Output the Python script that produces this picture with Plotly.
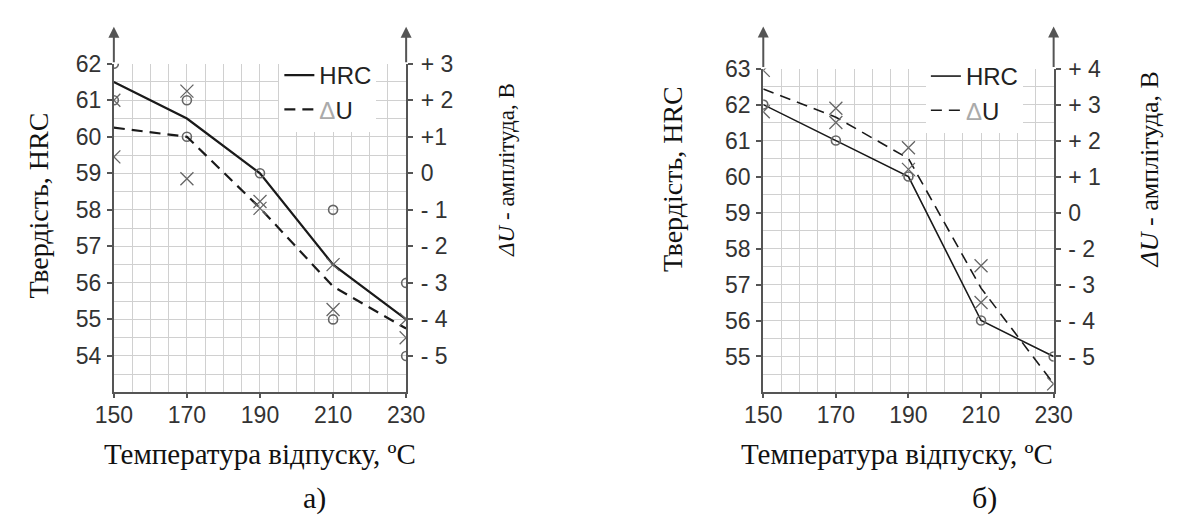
import plotly.graph_objects as go

W, H = 1182, 531

# ---------------- data ----------------
temps = [150, 170, 190, 210, 230]
x_ticks = [150, 170, 190, 210, 230]

# panel a)
a_hrc_line = [61.5, 60.5, 59.0, 56.5, 55.0]
a_du_line = [1.25, 1.0, -0.95, -3.1, -4.25]
a_circ_x = [150, 150, 170, 170, 190, 210, 210, 230, 230]
a_circ_y = [62, 61, 61, 60, 59, 58, 55, 56, 54]
a_cross_x = [150, 150, 170, 170, 190, 190, 210, 210, 230, 230]
a_cross_y = [2.0, 0.45, 2.25, -0.15, -0.77, -0.96, -2.5, -3.73, -4.0, -4.5]
a_left_ticks = [54, 55, 56, 57, 58, 59, 60, 61, 62]
a_right_vals = [3, 2, 1, 0, -1, -2, -3, -4, -5]
a_right_text = ["+ 3", "+ 2", "+1", "0", "- 1", "- 2", "- 3", "- 4", "- 5"]

# panel б)
b_hrc_line = [62.0, 61.0, 60.0, 56.0, 55.0]
b_du_line = [3.43, 2.65, 1.5, -2.1, -4.76]
b_circ_x = [150, 170, 190, 210, 230]
b_circ_y = [62, 61, 60, 56, 55]
b_cross_x = [150, 150, 170, 170, 190, 190, 210, 210, 230]
b_cross_y = [3.95, 2.8, 2.9, 2.5, 1.8, 1.2, -1.48, -2.5, -4.76]
b_left_ticks = [55, 56, 57, 58, 59, 60, 61, 62, 63]
b_right_vals = [4, 3, 2, 1, 0, -1, -2, -3, -4]
b_right_text = ["+ 4", "+ 3", "+ 2", "+ 1", "0", "- 2", "- 3", "- 4", "- 5"]

y_title = "Твердість, HRC"
y2_title = "<i>ΔU</i> - амплітуда, В"
x_title = "Температура відпуску, ºС"
legend_names = ["HRC", "<span style='color:#aaa'>Δ</span>U"]

# ---------------- style ----------------
SANS = "Liberation Sans"
TICKFONT = dict(family=SANS, size=23, color="#333")
SERIF = "Liberation Serif"
AXC = "#555"
GRID = "#d0d0d0"
LINEC = "#1a1a1a"
PTC = "#666"


def px_x(p):
    return p / W


def px_y(p):
    return 1 - p / H


fig = go.Figure()

panels = [
    dict(x="x", y="y", y2="y2", xd=(98, 400), yd=(389, 52), yr=[53, 62], y2r=[-6, 3],
         lt=a_left_ticks, rv=a_right_vals, rt=a_right_text,
         hrc=a_hrc_line, du=a_du_line, cx=a_circ_x, cy=a_circ_y, kx=a_cross_x, ky=a_cross_y,
         lw=2.2, legend="legend"),
    dict(x="x2", y="y3", y2="y4", xd=(769, 1069), yd=(389, 57), yr=[54, 63], y2r=[-5, 4],
         lt=b_left_ticks, rv=b_right_vals, rt=b_right_text,
         hrc=b_hrc_line, du=b_du_line, cx=b_circ_x, cy=b_circ_y, kx=b_cross_x, ky=b_cross_y,
         lw=1.6, legend="legend2"),
]

for i, p in enumerate(panels):
    fig.add_trace(go.Scatter(x=temps, y=p["hrc"], xaxis=p["x"], yaxis=p["y"], mode="lines",
                             line=dict(color=LINEC, width=p["lw"]), name=legend_names[0],
                             legend=p["legend"]))
    fig.add_trace(go.Scatter(x=temps, y=p["du"], xaxis=p["x"], yaxis=p["y2"], mode="lines",
                             line=dict(color=LINEC, width=p["lw"], dash="11px,7px"),
                             name=legend_names[1], legend=p["legend"]))
    fig.add_trace(go.Scatter(x=p["cx"], y=p["cy"], xaxis=p["x"], yaxis=p["y"], mode="markers",
                             marker=dict(symbol="circle-open", size=9, color=PTC, line=dict(width=1.6, color=PTC)),
                             showlegend=False))
    fig.add_trace(go.Scatter(x=p["kx"], y=p["ky"], xaxis=p["x"], yaxis=p["y2"], mode="markers",
                             marker=dict(symbol="x-thin-open", size=13, color=PTC, line=dict(width=1.3, color=PTC)),
                             showlegend=False))

layout = dict(
    width=W, height=H, margin=dict(l=0, r=0, t=0, b=0),
    paper_bgcolor="white", plot_bgcolor="white",
    showlegend=True,
)

for i, p in enumerate(panels):
    xname = "xaxis" if p["x"] == "x" else "xaxis2"
    yname = "yaxis" if p["y"] == "y" else "yaxis" + p["y"][1:]
    y2name = "yaxis" + p["y2"][1:]
    layout[xname] = dict(
        domain=[px_x(p["xd"][0]), px_x(p["xd"][1])], range=[150, 230], anchor=p["y"],
        tickvals=x_ticks, ticks="outside", ticklen=4, tickwidth=1.5, tickcolor=AXC,
        showline=True, linecolor=AXC, linewidth=2, tickfont=TICKFONT,
        showgrid=True, gridcolor=GRID, gridwidth=1, zeroline=False,
        minor=dict(dtick=5, tick0=150, showgrid=True, gridcolor=GRID, gridwidth=1, ticks=""),
        ticklabelstandoff=-3,
    )
    layout[yname] = dict(
        domain=[px_y(p["yd"][0]), px_y(p["yd"][1])], range=p["yr"], anchor=p["x"],
        tickvals=p["lt"], ticks="outside", ticklen=5, tickwidth=1.5, tickcolor=AXC,
        showline=True, linecolor=AXC, linewidth=2, tickfont=TICKFONT,
        showgrid=True, gridcolor=GRID, gridwidth=1, zeroline=False,
        minor=dict(dtick=0.5, tick0=p["yr"][0], showgrid=True, gridcolor=GRID, gridwidth=1, ticks=""),
        ticklabelstandoff=1,
    )
    layout[y2name] = dict(
        range=p["y2r"], overlaying=p["y"], anchor=p["x"], side="right",
        tickvals=p["rv"], ticktext=p["rt"], ticks="outside", ticklen=5, tickwidth=1.5, tickcolor=AXC,
        showline=True, linecolor=AXC, linewidth=2, tickfont=TICKFONT,
        showgrid=False, zeroline=False, ticklabelstandoff=3,
    )

legend_common = dict(bgcolor="white", borderwidth=0, xanchor="left", yanchor="top",
                     font=dict(family=SANS, size=24, color="#222"),
                     itemwidth=30, tracegroupgap=0)
layout["legend"] = dict(legend_common, x=px_x(269), y=px_y(41))
layout["legend2"] = dict(legend_common, x=px_x(937), y=px_y(42))

fig.update_layout(**layout)

ann = []
TF = dict(family=SERIF, size=28, color="#111")
XF = dict(family=SERIF, size=29, color="#111")
C = dict(xref="paper", yref="paper", showarrow=False, xanchor="center", yanchor="middle")
ann.append(dict(C, text=y_title, x=px_x(20), y=px_y(197), textangle=-90, font=TF))
ann.append(dict(C, text=y_title, x=px_x(676), y=px_y(170), textangle=-90, font=TF))
ann.append(dict(C, text=y2_title, x=px_x(503), y=px_y(161), textangle=-90,
                font=dict(family=SERIF, size=23, color="#111")))
ann.append(dict(C, text=y2_title, x=px_x(1168), y=px_y(160), textangle=-90,
                font=dict(family=SERIF, size=26, color="#111")))
ann.append(dict(C, text=x_title, x=px_x(249), y=px_y(452), font=XF))
ann.append(dict(C, text=x_title, x=px_x(907), y=px_y(452), font=XF))
ann.append(dict(C, text="а)", x=px_x(305), y=px_y(497), font=dict(family=SERIF, size=30, color="#111")))
ann.append(dict(C, text="б)", x=px_x(998), y=px_y(497), font=dict(family=SERIF, size=30, color="#111")))

for p in panels:
    top = p["yd"][1]
    ext = top - 15
    for xv in (150, 230):
        ann.append(dict(text="", x=xv, xref=p["x"], y=1, yref=p["y"] + " domain",
                        ax=0, ay=ext, showarrow=True, arrowhead=2, arrowsize=1.1,
                        arrowwidth=2, arrowcolor=AXC, yshift=ext, standoff=0, startstandoff=0))

fig.update_layout(annotations=ann)
fig.write_html("out.html")
